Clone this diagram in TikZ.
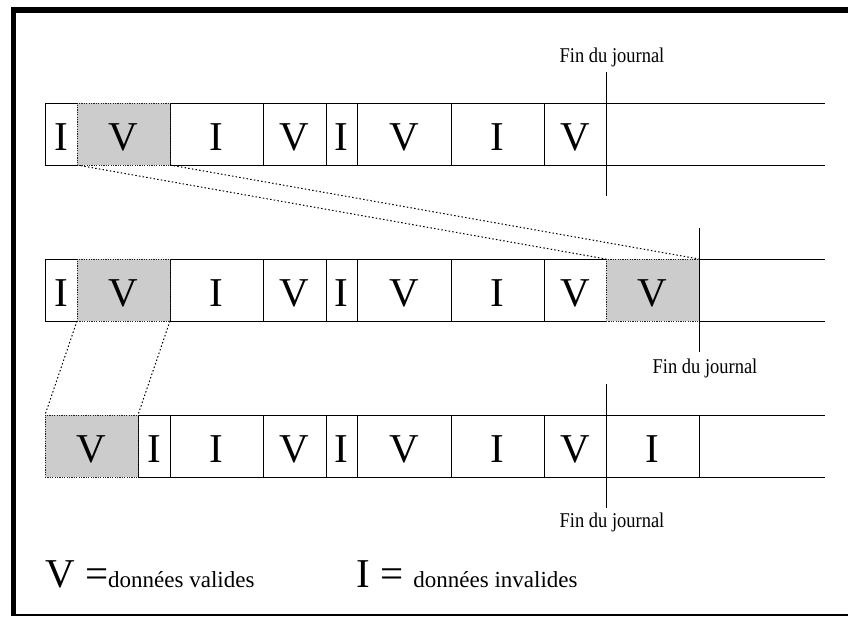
\documentclass[tikz,border=0pt]{standalone}
\usepackage{fontspec}
\setmainfont{Liberation Serif}
\definecolor{cellgray}{RGB}{204,204,204}
\definecolor{dotgray}{RGB}{30,30,30}
\begin{document}
\begin{tikzpicture}[x=1pt,y=-1pt,
  cell/.style={draw=black, line width=0.8pt, rectangle, inner sep=0pt, outer sep=0pt,
    minimum height=62pt, text height=32pt, text depth=0pt,
    font=\fontsize{41}{44}\selectfont},
  graycell/.style={cell, fill=cellgray, draw=dotgray, dash pattern=on 1.2pt off 1.2pt},
  tail/.style={draw=black, line width=0.8pt},
  marker/.style={draw=black, line width=0.8pt},
  link/.style={draw=black, line width=1pt, dash pattern=on 1.5pt off 2.2pt},
  finlabel/.style={anchor=base, inner sep=0pt},
  legend/.style={anchor=base west, inner sep=0pt}
]
\useasboundingbox (0,0) rectangle (848,616);
% frame
\fill[black] (11,6.5) rectangle (848,12.7);
\fill[black] (11,6.5) rectangle (16,616);
\fill[black] (11,614.3) rectangle (848,616);

\coordinate (rowend) at (825,0);

% ---------------- row 1 ----------------
\node[cell, minimum width=32pt] (a1) at (61,134) {I};
\node[cell, minimum width=93pt] (a3) at (216.5,134) {I};
\node[cell, minimum width=63pt] (a4) at (294.5,134) {V};
\node[cell, minimum width=31pt] (a5) at (341.5,134) {I};
\node[cell, minimum width=94pt] (a6) at (404,134) {V};
\node[cell, minimum width=93pt] (a7) at (497.5,134) {I};
\node[cell, minimum width=62pt] (a8) at (575,134) {V};
\node[graycell, minimum width=93pt] (a2) at (123.5,134) {V};
\draw[tail] (a8.north east) -- (a8.north east -| rowend);
\draw[tail] (a8.south east) -- (a8.south east -| rowend);

% ---------------- row 2 ----------------
\node[cell, minimum width=32pt] (b1) at (61,290) {I};
\node[cell, minimum width=93pt] (b3) at (216.5,290) {I};
\node[cell, minimum width=63pt] (b4) at (294.5,290) {V};
\node[cell, minimum width=31pt] (b5) at (341.5,290) {I};
\node[cell, minimum width=94pt] (b6) at (404,290) {V};
\node[cell, minimum width=93pt] (b7) at (497.5,290) {I};
\node[cell, minimum width=62pt] (b8) at (575,290) {V};
\node[graycell, minimum width=93pt] (b2) at (123.5,290) {V};
\node[graycell, minimum width=93pt] (b9) at (652.5,290) {V};
\draw[tail] (b9.north east) -- (b9.north east -| rowend);
\draw[tail] (b9.south east) -- (b9.south east -| rowend);

% ---------------- row 3 ----------------
\node[cell, minimum width=32pt] (c2) at (154,446) {I};
\node[cell, minimum width=93pt] (c3) at (216.5,446) {I};
\node[cell, minimum width=63pt] (c4) at (294.5,446) {V};
\node[cell, minimum width=31pt] (c5) at (341.5,446) {I};
\node[cell, minimum width=94pt] (c6) at (404,446) {V};
\node[cell, minimum width=93pt] (c7) at (497.5,446) {I};
\node[cell, minimum width=62pt] (c8) at (575,446) {V};
\node[cell, minimum width=93pt] (c9) at (652.5,446) {I};
\node[graycell, minimum width=93pt] (c1) at (91.5,446) {V};
\draw[tail] (c9.north east) -- (c9.north east -| rowend);
\draw[tail] (c9.south east) -- (c9.south east -| rowend);

% ---------------- copy links ----------------
\draw[link] (a2.south west) -- (b9.north west);
\draw[link] (a2.south east) -- (b9.north east);
\draw[link] (b2.south west) -- (c1.north west);
\draw[link] (b2.south east) -- (c1.north east);

% ---------------- end-of-log markers ----------------
\coordinate (m1t) at (606,72);  \coordinate (m1b) at (606,196);
\coordinate (m2t) at (699,228); \coordinate (m2b) at (699,352);
\coordinate (m3t) at (606,384); \coordinate (m3b) at (606,508);
\draw[marker] (m1t) -- (m1b);
\draw[marker] (m2t) -- (m2b);
\draw[marker] (m3t) -- (m3b);
\node[finlabel] (f1) at (612,62) {\scalebox{0.88}[1]{\fontsize{21}{24}\selectfont Fin du journal}};
\node[finlabel] (f2) at (705,373) {\scalebox{0.88}[1]{\fontsize{21}{24}\selectfont Fin du journal}};
\node[finlabel] (f3) at (612,527) {\scalebox{0.88}[1]{\fontsize{21}{24}\selectfont Fin du journal}};

% ---------------- legend ----------------
\node[legend] (lv) at (45,587) {{\fontsize{41}{44}\selectfont V =}{\fontsize{23}{26}\selectfont données valides}};
\node[legend] (li) at (356,587) {{\fontsize{41}{44}\selectfont I = }{\fontsize{23}{26}\selectfont données invalides}};
\end{tikzpicture}
\end{document}
